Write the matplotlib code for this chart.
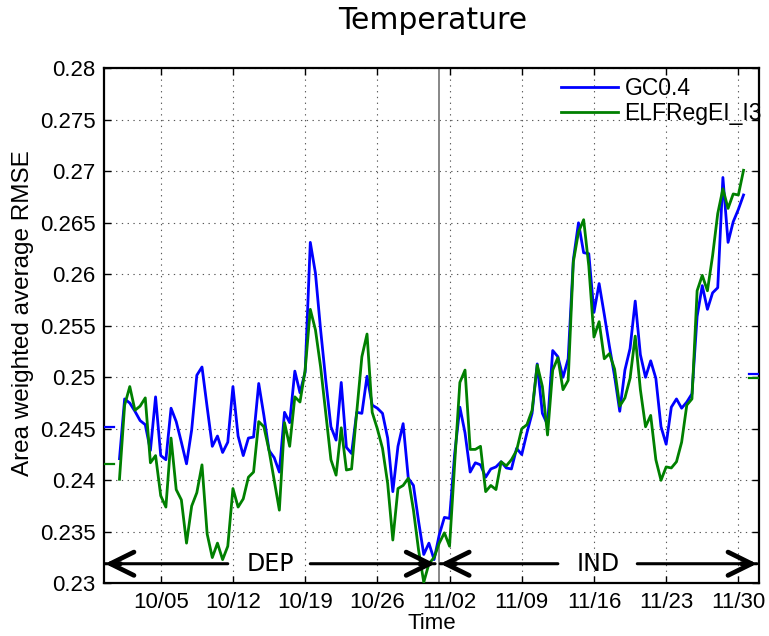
import numpy as np
import matplotlib
matplotlib.use("Agg")
import matplotlib.pyplot as plt
import matplotlib.dates as mdates
import matplotlib.ticker as ticker

# 12-hourly area weighted RMSE, 10/01 00Z .. 11/30 12Z
times = np.arange(np.datetime64("2012-10-01T00"), np.datetime64("2012-11-30T13"),
                  np.timedelta64(12, "h"))

gc04 = [0.2421, 0.2479, 0.2475, 0.2467, 0.2458, 0.2454, 0.2429, 0.2481, 0.2424, 0.2420,
        0.2470, 0.2457, 0.2437, 0.2416, 0.2449, 0.2502, 0.2510, 0.2471, 0.2433, 0.2443,
        0.2427, 0.2437, 0.2491, 0.2443, 0.2424, 0.2441, 0.2442, 0.2494, 0.2463, 0.2429,
        0.2422, 0.2408, 0.2466, 0.2456, 0.2506, 0.2485, 0.2505, 0.2631, 0.2601, 0.2546,
        0.2497, 0.2452, 0.2439, 0.2495, 0.2432, 0.2426, 0.2466, 0.2465, 0.2501, 0.2473,
        0.2470, 0.2465, 0.2441, 0.2389, 0.2433, 0.2455, 0.2402, 0.2395, 0.2360, 0.2328,
        0.2339, 0.2323, 0.2347, 0.2364, 0.2363, 0.2426, 0.2471, 0.2446, 0.2408, 0.2417,
        0.2415, 0.2403, 0.2411, 0.2413, 0.2418, 0.2412, 0.2411, 0.2431, 0.2425, 0.2446,
        0.2465, 0.2513, 0.2465, 0.2454, 0.2526, 0.2520, 0.2500, 0.2518, 0.2614, 0.2650,
        0.2621, 0.2620, 0.2563, 0.2591, 0.2561, 0.2530, 0.2501, 0.2467, 0.2507, 0.2528,
        0.2574, 0.2522, 0.2500, 0.2516, 0.2499, 0.2452, 0.2435, 0.2471, 0.2479, 0.2470,
        0.2476, 0.2484, 0.2559, 0.2589, 0.2566, 0.2582, 0.2587, 0.2694, 0.2631, 0.2651,
        0.2663, 0.2677]

elf = [0.2401, 0.2473, 0.2491, 0.2468, 0.2472, 0.2480, 0.2417, 0.2424, 0.2385, 0.2374,
       0.2441, 0.2391, 0.2381, 0.2339, 0.2375, 0.2388, 0.2415, 0.2348, 0.2325, 0.2339,
       0.2323, 0.2336, 0.2392, 0.2374, 0.2382, 0.2403, 0.2408, 0.2457, 0.2452, 0.2429,
       0.2400, 0.2371, 0.2456, 0.2433, 0.2481, 0.2476, 0.2507, 0.2566, 0.2546, 0.2510,
       0.2465, 0.2420, 0.2405, 0.2451, 0.2410, 0.2411, 0.2466, 0.2520, 0.2542, 0.2466,
       0.2450, 0.2431, 0.2397, 0.2342, 0.2392, 0.2395, 0.2402, 0.2371, 0.2332, 0.2301,
       0.2319, 0.2325, 0.2339, 0.2349, 0.2336, 0.2417, 0.2495, 0.2507, 0.2430, 0.2430,
       0.2433, 0.2389, 0.2395, 0.2391, 0.2418, 0.2414, 0.2420, 0.2429, 0.2450, 0.2454,
       0.2468, 0.2512, 0.2491, 0.2444, 0.2507, 0.2519, 0.2488, 0.2497, 0.2612, 0.2641,
       0.2653, 0.2608, 0.2539, 0.2554, 0.2518, 0.2523, 0.2508, 0.2472, 0.2480, 0.2499,
       0.2540, 0.2488, 0.2452, 0.2463, 0.2420, 0.2400, 0.2413, 0.2412, 0.2418, 0.2437,
       0.2473, 0.2479, 0.2584, 0.2599, 0.2584, 0.2618, 0.2659, 0.2683, 0.2664, 0.2678,
       0.2677, 0.2701]

# period means (DEP, IND)
gc04_mean = [0.2452, 0.2503]
elf_mean = [0.2416, 0.2499]

labels = ["GC0.4", "ELFRegEI_I3"]
colors = ["#0000ff", "#008000"]

plt.rcParams["font.family"] = ["Liberation Sans", "DejaVu Sans"]

fig = plt.figure(figsize=(7.69, 6.36), dpi=100)
ax = fig.add_axes([104 / 769, 1 - 583.3 / 636, 655 / 769, 515 / 636])

t = mdates.date2num(times)
t0 = mdates.date2num(np.datetime64("2012-10-01T00"))
xmin, xmax = t0 - 1.5, t0 + 62.0

ax.plot(t, gc04, color=colors[0], lw=2.0, label=labels[0], zorder=3)
ax.plot(t, elf, color=colors[1], lw=2.0, label=labels[1], zorder=3)

# mean markers on the left / right edges
for means, c in [(gc04_mean, colors[0]), (elf_mean, colors[1])]:
    ax.plot([xmin, xmin + 1.0], [means[0]] * 2, color=c, lw=1.6, zorder=3)
    ax.plot([xmax - 1.0, xmax], [means[1]] * 2, color=c, lw=1.6, zorder=3)

# split between the two periods
split = t0 + 31
ax.axvline(split, color="0.45", lw=1.2, zorder=2)

# DEP / IND period arrows: thin shaft, bold open head
ya = 0.2319
head = dict(arrowstyle="->, head_length=0.85, head_width=0.42", lw=3.4,
            color="k", mutation_scale=20, shrinkA=0, shrinkB=0)
shaft = dict(arrowstyle="-", lw=2.2, color="k", shrinkA=0, shrinkB=0)
for tip, tail in [(-1.4, 10.5), (30.6, 18.5), (31.1, 42.5), (61.8, 50.2)]:
    ax.annotate("", xy=(t0 + tip, ya), xytext=(t0 + tail, ya), arrowprops=shaft)
    step = 1.5 if tail > tip else -1.5
    ax.annotate("", xy=(t0 + tip, ya), xytext=(t0 + tip + step, ya), arrowprops=head)
ax.text(t0 + 14.6, ya, "DEP", ha="center", va="center", fontsize=17, family="DejaVu Sans")
ax.text(t0 + 46.4, ya, "IND", ha="center", va="center", fontsize=17, family="DejaVu Sans")

ax.set_xlim(xmin, xmax)
ax.set_ylim(0.23, 0.28)
ax.set_yticks(np.arange(0.23, 0.2801, 0.005))
ax.yaxis.set_major_formatter(ticker.FormatStrFormatter("%g"))
ax.set_xticks(mdates.date2num(np.arange(np.datetime64("2012-10-05"),
                                        np.datetime64("2012-12-01"),
                                        np.timedelta64(7, "D"))))
ax.xaxis.set_major_formatter(mdates.DateFormatter("%m/%d"))

ax.tick_params(direction="in", top=True, right=True, length=5, width=1,
               labelsize=16, pad=6)
for s in ax.spines.values():
    s.set_linewidth(1.6)
ax.grid(True, linestyle=(0, (1.2, 4)), color="0.35", lw=0.8)

ax.set_xlabel("Time", fontsize=16)
ax.xaxis.set_label_coords(0.5, -0.058)
fig.text(23 / 769, 0.507, "Area weighted average RMSE", rotation=90,
         ha="center", va="center", fontsize=17.5)
fig.text(0.563, 0.968, "Temperature", ha="center", va="center", fontsize=21.5,
         family="DejaVu Sans")

ax.legend(loc="upper left", bbox_to_anchor=(561 / 769, 1 - 77 / 636),
          bbox_transform=fig.transFigure, frameon=False, fontsize=16.5,
          borderpad=0, borderaxespad=0, handlelength=2.5, handletextpad=0.27,
          labelspacing=0.1)

fig.savefig("out.png", dpi=100)
